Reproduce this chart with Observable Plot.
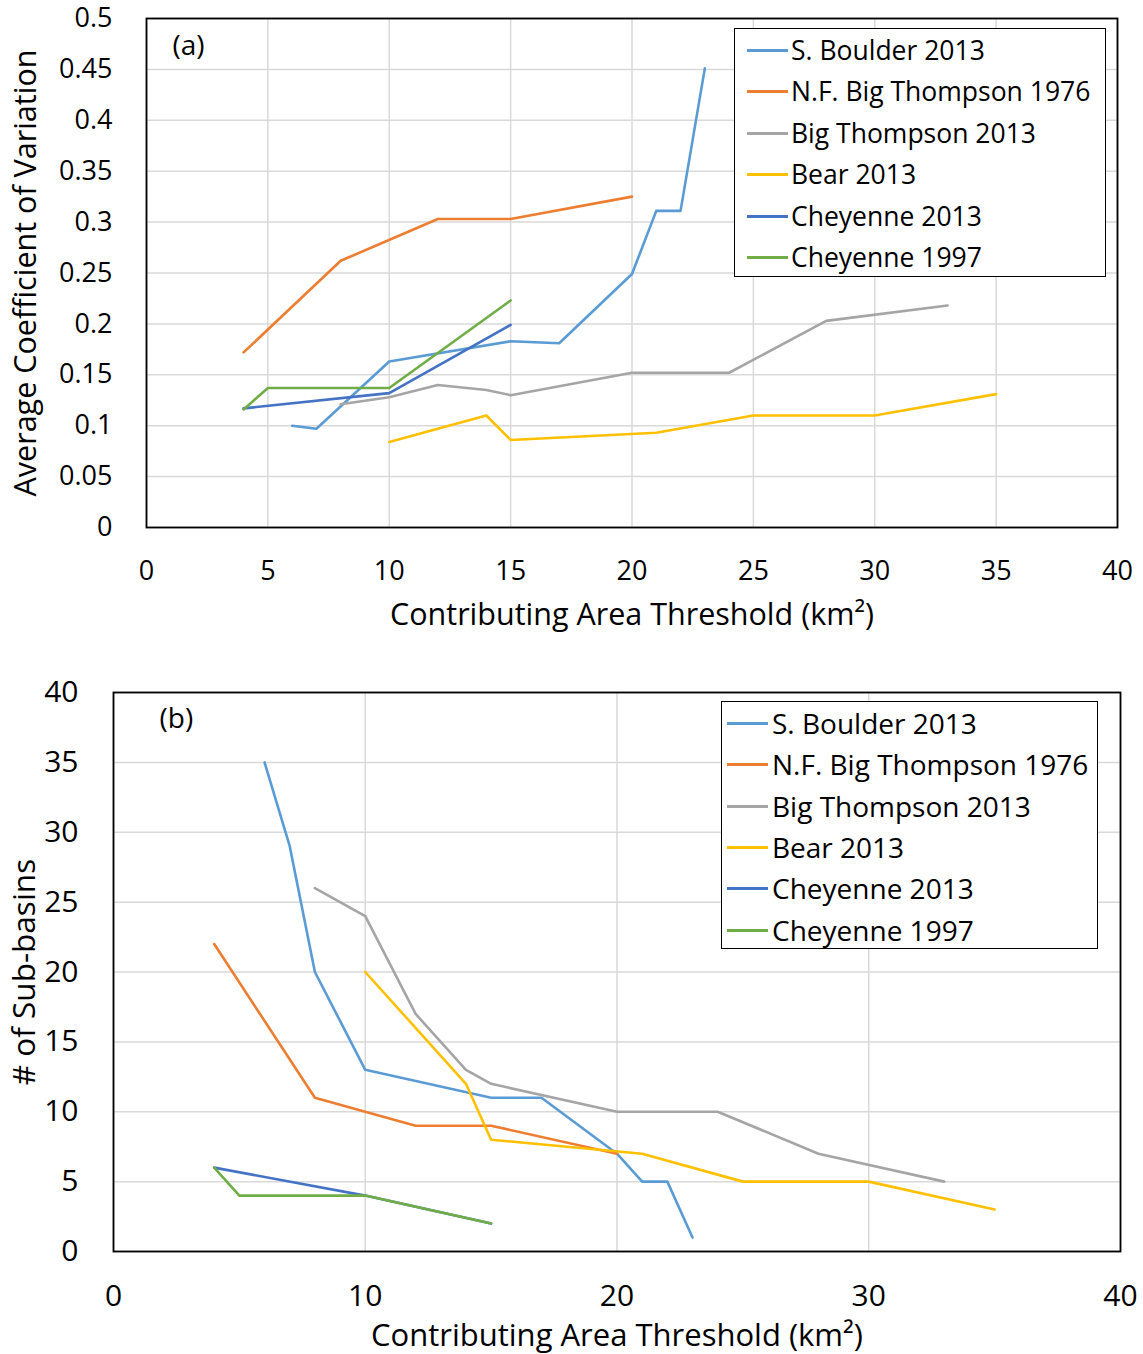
<!DOCTYPE html>
<html>
<head>
<meta charset="utf-8">
<script src="https://cdn.jsdelivr.net/npm/d3@7"></script>
<script src="https://cdn.jsdelivr.net/npm/@observablehq/plot@0.6"></script>
<style>
  html, body { margin: 0; padding: 0; background: #fff; }
  #wrap { position: relative; width: 1143px; height: 1354px; font-family: "Open Sans", Lato, sans-serif; color: #000; }
  .chart { position: absolute; left: 0; }
  .chart svg { overflow: visible; }
  .legend { position: absolute; background: #fff; border: 1.5px solid #000; box-sizing: border-box; }
  .legend .row { position: absolute; display: flex; align-items: center; white-space: nowrap; }
  .legend .sw { display: inline-block; height: 3px; }
</style>
</head>
<body>
<div id="wrap"></div>
<script>
// ---------- Data ----------
const seriesNames = ["S. Boulder 2013", "N.F. Big Thompson 1976", "Big Thompson 2013", "Bear 2013", "Cheyenne 2013", "Cheyenne 1997"];
const seriesColors = ["#5B9BD5", "#ED7D31", "#A5A5A5", "#FFC000", "#4472C4", "#70AD47"];

// (a) Average coefficient of variation
const sBoulderAreaA = [6, 7, 10, 15, 17, 20, 21, 22, 23];
const sBoulderCV = [0.100, 0.097, 0.163, 0.183, 0.181, 0.249, 0.311, 0.311, 0.451];
const nfBigThompsonAreaA = [4, 8, 12, 15, 20];
const nfBigThompsonCV = [0.172, 0.262, 0.303, 0.303, 0.325];
const bigThompsonAreaA = [8, 10, 12, 14, 15, 20, 24, 28, 33];
const bigThompsonCV = [0.121, 0.128, 0.140, 0.135, 0.130, 0.152, 0.152, 0.203, 0.218];
const bearAreaA = [10, 14, 15, 21, 25, 30, 35];
const bearCV = [0.084, 0.110, 0.086, 0.093, 0.110, 0.110, 0.131];
const cheyenne2013AreaA = [4, 10, 15];
const cheyenne2013CV = [0.117, 0.132, 0.199];
const cheyenne1997AreaA = [4, 5, 10, 15];
const cheyenne1997CV = [0.116, 0.137, 0.137, 0.223];

// (b) Number of sub-basins
const sBoulderAreaB = [6, 7, 8, 10, 15, 17, 20, 21, 22, 23];
const sBoulderCount = [35, 29, 20, 13, 11, 11, 7, 5, 5, 1];
const nfBigThompsonAreaB = [4, 8, 12, 15, 20];
const nfBigThompsonCount = [22, 11, 9, 9, 7];
const bigThompsonAreaB = [8, 10, 12, 14, 15, 20, 24, 28, 33];
const bigThompsonCount = [26, 24, 17, 13, 12, 10, 10, 7, 5];
const bearAreaB = [10, 14, 15, 21, 25, 30, 35];
const bearCount = [20, 12, 8, 7, 5, 5, 3];
const cheyenne2013AreaB = [4, 10, 15];
const cheyenne2013Count = [6, 4, 2];
const cheyenne1997AreaB = [4, 5, 10, 15];
const cheyenne1997Count = [6, 4, 4, 2];

// Ticks
const xTicksA = [0, 5, 10, 15, 20, 25, 30, 35, 40];
const yTicksA = [0, 0.05, 0.1, 0.15, 0.2, 0.25, 0.3, 0.35, 0.4, 0.45, 0.5];
const xTicksB = [0, 10, 20, 30, 40];
const yTicksB = [0, 5, 10, 15, 20, 25, 30, 35, 40];

const xLabel = "Contributing Area Threshold (km²)";
const yLabelA = "Average Coefficient of Variation";
const yLabelB = "# of Sub-basins";

// ---------- Build tables ----------
function table(pairs) {
  const rows = [];
  pairs.forEach(([name, xs, ys]) => xs.forEach((x, i) => rows.push({series: name, x, y: ys[i]})));
  return rows;
}
const dataA = table([
  [seriesNames[0], sBoulderAreaA, sBoulderCV],
  [seriesNames[1], nfBigThompsonAreaA, nfBigThompsonCV],
  [seriesNames[2], bigThompsonAreaA, bigThompsonCV],
  [seriesNames[3], bearAreaA, bearCV],
  [seriesNames[4], cheyenne2013AreaA, cheyenne2013CV],
  [seriesNames[5], cheyenne1997AreaA, cheyenne1997CV]
]);
const dataB = table([
  [seriesNames[0], sBoulderAreaB, sBoulderCount],
  [seriesNames[1], nfBigThompsonAreaB, nfBigThompsonCount],
  [seriesNames[2], bigThompsonAreaB, bigThompsonCount],
  [seriesNames[3], bearAreaB, bearCount],
  [seriesNames[4], cheyenne2013AreaB, cheyenne2013Count],
  [seriesNames[5], cheyenne1997AreaB, cheyenne1997Count]
]);

const fmt = d => String(d);

function makeChart(cfg) {
  return Plot.plot({
    width: 1143,
    height: cfg.height,
    marginLeft: cfg.ml, marginRight: cfg.mr, marginTop: cfg.mt, marginBottom: cfg.mb,
    style: {fontFamily: "'Open Sans', Lato, sans-serif", fontSize: cfg.fs + "px", color: "#000", background: "#fff", overflow: "visible"},
    x: {domain: [0, 40]},
    y: {domain: cfg.yDomain},
    color: {domain: seriesNames, range: seriesColors},
    marks: [
      Plot.gridX(cfg.xTicks, {stroke: "#d9d9d9", strokeOpacity: 1, strokeWidth: 1.5}),
      Plot.gridY(cfg.yTicks, {stroke: "#d9d9d9", strokeOpacity: 1, strokeWidth: 1.5}),
      Plot.axisX(cfg.xTicks, {tickSize: 0, tickPadding: cfg.xPad, tickFormat: fmt, label: null, fontSize: cfg.fs}),
      Plot.axisX({tickSize: 0, ticks: [], label: xLabel, labelAnchor: "center", labelOffset: cfg.xLabOff, labelArrow: false, fontSize: cfg.lfs}),
      Plot.axisY(cfg.yTicks, {tickSize: 0, tickPadding: cfg.yPad, tickFormat: fmt, label: null, fontSize: cfg.fs}),
      Plot.axisY({tickSize: 0, ticks: [], label: cfg.yLabel, labelAnchor: "center", labelOffset: cfg.yLabOff, labelArrow: false, fontSize: cfg.ylfs}),
      Plot.line(cfg.data, {x: "x", y: "y", z: "series", stroke: "series", strokeWidth: 2.6}),
      Plot.frame({stroke: "#000", strokeWidth: 1.8}),
      Plot.text([cfg.tag], {frameAnchor: "top-left", dx: cfg.tagDx, dy: cfg.tagDy, fontSize: cfg.tfs, textAnchor: "start", lineAnchor: "top"})
    ]
  });
}

function makeLegend(box) {
  const lg = document.createElement("div");
  lg.className = "legend";
  Object.assign(lg.style, {left: box.left + "px", top: box.top + "px", width: box.w + "px", height: box.h + "px"});
  seriesNames.forEach((name, i) => {
    const row = document.createElement("div");
    row.className = "row";
    Object.assign(row.style, {left: box.swLeft + "px", top: Math.round(box.firstY + i * box.step - box.top - 20) + "px", height: "40px", fontSize: box.fs + "px"});
    const sw = document.createElement("span");
    sw.className = "sw";
    Object.assign(sw.style, {width: box.swW + "px", background: seriesColors[i], marginRight: box.gap + "px"});
    const t = document.createElement("span");
    t.textContent = name;
    row.appendChild(sw); row.appendChild(t);
    lg.appendChild(row);
  });
  return lg;
}

const wrap = document.getElementById("wrap");

const chartA = makeChart({
  height: 640, ml: 146, mr: 26, mt: 18, mb: 113, fs: 27, lfs: 30.5, ylfs: 30.5, tfs: 28,
  yDomain: [0, 0.5], xTicks: xTicksA, yTicks: yTicksA,
  xPad: 33, yPad: 34, xLabOff: 97, yLabOff: 132, yLabel: yLabelA,
  data: dataA, tag: "(a)", tagDx: 26, tagDy: 17
});
const divA = document.createElement("div");
divA.className = "chart"; divA.style.top = "0px";
divA.appendChild(chartA);
wrap.appendChild(divA);

const chartB = makeChart({
  height: 714, ml: 113, mr: 23, mt: 52, mb: 103, fs: 30, lfs: 31, ylfs: 31.5, tfs: 28,
  yDomain: [0, 40], xTicks: xTicksB, yTicks: yTicksB,
  xPad: 33, yPad: 35, xLabOff: 94, yLabOff: 101, yLabel: yLabelB,
  data: dataB, tag: "(b)", tagDx: 46, tagDy: 16
});
const divB = document.createElement("div");
divB.className = "chart"; divB.style.top = "640px";
divB.appendChild(chartB);
wrap.appendChild(divB);

wrap.appendChild(makeLegend({left: 734, top: 28, w: 372, h: 249, swLeft: 12, swW: 41, gap: 3, firstY: 49, step: 41.4, fs: 26.5}));
wrap.appendChild(makeLegend({left: 721, top: 701, w: 377, h: 248, swLeft: 5, swW: 41, gap: 4, firstY: 722, step: 41.3, fs: 28}));
</script>
</body>
</html>
